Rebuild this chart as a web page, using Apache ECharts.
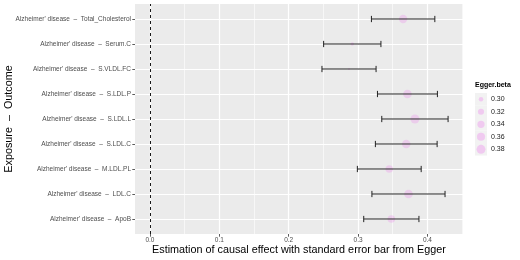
<!DOCTYPE html>
<html>
<head>
<meta charset="utf-8">
<script src="https://cdn.jsdelivr.net/npm/echarts@6/dist/echarts.min.js"></script>
<style>
  html, body { margin: 0; padding: 0; background: #fff; }
  #chart { width: 520px; height: 260px; }
</style>
</head>
<body>
<div id="chart"></div>
<script>
// categories, bottom to top as ggplot draws them
var outcomes = ['ApoB', 'LDL.C', 'M.LDL.PL', 'S.LDL.C', 'S.LDL.L', 'S.LDL.P', 'S.VLDL.FC', 'Serum.C', 'Total_Cholesterol'];
var exposure = "Alzheimer' disease";
// Egger estimates and their standard errors
var eggerBeta = [0.348, 0.3727, 0.345, 0.3695, 0.382, 0.3712, 0.287, 0.2917, 0.365];
var eggerSe   = [0.0398, 0.0527, 0.046, 0.0445, 0.0478, 0.0432, 0.039, 0.0413, 0.0457];
var xTicks = [0, 0.1, 0.2, 0.3, 0.4];
var sizeBreaks = [0.30, 0.32, 0.34, 0.36, 0.38];

var labels = outcomes.map(function (o) { return exposure + '  \u2013  ' + o; });
var bMin = Math.min.apply(null, eggerBeta), bMax = Math.max.apply(null, eggerBeta);
// ggplot-like area scale, size range 1..6
function dotSize(b) {
  var t = Math.max(0, (b - bMin) / (bMax - bMin));
  var s = 1 + 5 * Math.sqrt(t);
  return 0.5 * (2.845 * s + 0.945);
}

var barData = [], dotData = [], hiMax = 0;
outcomes.forEach(function (o, i) {
  var lo = eggerBeta[i] - eggerSe[i], hi = eggerBeta[i] + eggerSe[i];
  if (hi > hiMax) hiMax = hi;
  barData.push([i + 1, lo, hi]);
  dotData.push([eggerBeta[i], i + 1]);
});
// 5% expansion like ggplot, range includes the 0 reference line
var xMin = -0.05 * hiMax, xMax = hiMax * 1.05;

var fontFam = '"Liberation Sans", Arial, sans-serif';
var panel = { left: 135, top: 4, width: 328, height: 230 };

// legend drawn by hand (size guide)
var legendEls = [{
  type: 'text', left: 475, top: 82,
  style: { text: 'Egger.beta', font: 'bold 7px ' + fontFam, fill: '#000' }
}];
sizeBreaks.forEach(function (b, i) {
  var cy = 99.3 + i * 12.5;
  legendEls.push({ type: 'rect', shape: { x: 475, y: cy - 6.25, width: 12, height: 12.5 }, style: { fill: '#F2F2F2' } });
  legendEls.push({ type: 'circle', shape: { cx: 481, cy: cy, r: dotSize(b) / 2 }, style: { fill: 'rgba(238,130,238,0.35)' } });
  legendEls.push({ type: 'text', x: 491, y: cy, style: { text: b.toFixed(2), font: '7px ' + fontFam, fill: '#1a1a1a', verticalAlign: 'middle' } });
});

function isMajor(v) {
  var r = Math.round(v * 10) / 10;
  return Math.abs(v - r) < 1e-6 && xTicks.indexOf(r) >= 0;
}

var myChart = echarts.init(document.getElementById('chart'), null, { renderer: 'canvas' });
myChart.setOption({
  animation: false,
  backgroundColor: '#fff',
  textStyle: { fontFamily: fontFam },
  grid: [
    { left: panel.left, top: panel.top, width: panel.width, height: panel.height,
      show: true, backgroundColor: '#EBEBEB', borderWidth: 0, outerBoundsMode: 'none' },
    { left: panel.left, top: 19 - 12.5, width: panel.width, height: 225, show: false, outerBoundsMode: 'none' }
  ],
  xAxis: [
    {
      type: 'value', gridIndex: 0, min: xMin, max: xMax,
      minInterval: 0.1, maxInterval: 0.1,
      name: 'Estimation of causal effect with standard error bar from Egger',
      nameLocation: 'middle', nameGap: 11, nameMoveOverlap: false,
      nameTextStyle: { fontSize: 10.8, color: '#000', fontFamily: fontFam },
      axisLine: { show: false, onZero: false },
      axisTick: { show: true, length: 2.7, lineStyle: { color: '#333', width: 0.8 } },
      axisLabel: {
        showMinLabel: false, showMaxLabel: false, margin: 3,
        fontSize: 6.5, color: '#4D4D4D', fontFamily: fontFam,
        formatter: function (v) { return isMajor(v) ? v.toFixed(1) : ''; }
      },
      splitLine: { show: true, showMinLine: false, showMaxLine: false, lineStyle: { color: '#fff', width: 1.2 } }
    },
    {
      type: 'value', gridIndex: 0, min: xMin, max: xMax,
      minInterval: 0.05, maxInterval: 0.05,
      axisLine: { show: false, onZero: false }, axisTick: { show: false }, axisLabel: { show: false },
      splitLine: { show: true, showMinLine: false, showMaxLine: false, lineStyle: { color: '#fff', width: 0.6 } }
    },
    {
      type: 'value', gridIndex: 1, min: xMin, max: xMax, show: false,
      axisLine: { onZero: false }
    }
  ],
  yAxis: [
    {
      type: 'value', gridIndex: 0, min: 0.4, max: 9.6,
      minInterval: 1, maxInterval: 1,
      axisLine: { show: false, onZero: false }, axisTick: { show: false }, axisLabel: { show: false },
      splitLine: { show: true, showMinLine: false, showMaxLine: false, lineStyle: { color: '#fff', width: 1.2 } }
    },
    {
      type: 'category', gridIndex: 1, data: labels, position: 'left',
      name: 'Exposure  \u2013  Outcome', nameLocation: 'middle', nameGap: 120, nameRotate: 90,
      nameMoveOverlap: false,
      nameTextStyle: { fontSize: 10.8, color: '#000', fontFamily: fontFam },
      axisLine: { show: false, onZero: false },
      axisTick: { show: true, alignWithLabel: true, length: 2.7, lineStyle: { color: '#333', width: 0.8 } },
      axisLabel: { margin: 4, fontSize: 6.5, color: '#4D4D4D', fontFamily: fontFam },
      splitLine: { show: false }
    }
  ],
  graphic: legendEls,
  series: [
    {
      type: 'scatter', xAxisIndex: 0, yAxisIndex: 0,
      data: dotData,
      symbolSize: function (v) { return dotSize(v[0]); },
      itemStyle: { color: 'rgba(238,130,238,0.35)' },
      z: 3
    },
    {
      type: 'custom', xAxisIndex: 0, yAxisIndex: 0,
      data: barData,
      encode: { x: [1, 2], y: 0 },
      z: 4,
      renderItem: function (params, api) {
        var y = api.value(0);
        var p1 = api.coord([api.value(1), y]);
        var p2 = api.coord([api.value(2), y]);
        var h = api.size([0, 0.25])[1] / 2;
        var st = { stroke: '#222', lineWidth: 1, fill: null };
        return {
          type: 'group',
          children: [
            { type: 'line', shape: { x1: p1[0], y1: p1[1], x2: p2[0], y2: p2[1] }, style: st },
            { type: 'line', shape: { x1: p1[0], y1: p1[1] - h, x2: p1[0], y2: p1[1] + h }, style: st },
            { type: 'line', shape: { x1: p2[0], y1: p2[1] - h, x2: p2[0], y2: p2[1] + h }, style: st }
          ]
        };
      },
      markLine: {
        silent: true, symbol: 'none', label: { show: false },
        lineStyle: { color: '#000', type: [3, 3], width: 0.9 },
        data: [{ xAxis: 0 }]
      }
    }
  ]
});
</script>
</body>
</html>
